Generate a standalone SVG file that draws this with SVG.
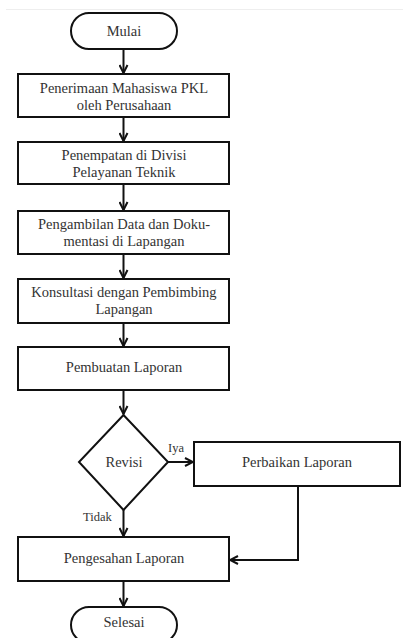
<svg xmlns="http://www.w3.org/2000/svg" width="403" height="638" viewBox="0 0 403 638">
<defs>
<marker id="ah" viewBox="0 0 10 10" refX="9" refY="5" markerWidth="10" markerHeight="10" markerUnits="userSpaceOnUse" orient="auto">
<path d="M1,1 L9,5 L1,9" fill="none" stroke="#111" stroke-width="2"/>
</marker>
<style>
.s{fill:#fff;stroke:#111;stroke-width:2}
text{font-family:"Times New Roman","Liberation Serif",Tinos,"Noto Serif","DejaVu Serif",serif}
.t{font-size:14.5px;fill:#333;text-anchor:middle}
.l{font-size:12.5px;fill:#333}
.c{fill:none;stroke:#111;stroke-width:2;marker-end:url(#ah)}
</style>
</defs>
<rect width="403" height="638" fill="#fff"/>
<line x1="6" y1="9.5" x2="403" y2="9.5" stroke="#eee" stroke-width="1"/>
<g id="connectors">
<line class="c" x1="123.5" y1="49" x2="123.5" y2="73"/>
<line class="c" x1="123.5" y1="117" x2="123.5" y2="141"/>
<line class="c" x1="123.5" y1="184" x2="123.5" y2="210"/>
<line class="c" x1="123.5" y1="254" x2="123.5" y2="278"/>
<line class="c" x1="123.5" y1="323" x2="123.5" y2="346"/>
<line class="c" x1="123.5" y1="390" x2="123.5" y2="414"/>
<line class="c" x1="168" y1="462" x2="193" y2="462"/>
<line class="c" x1="123.5" y1="510" x2="123.5" y2="536"/>
<polyline class="c" points="298,486 298,560 230,560"/>
<line class="c" x1="123.5" y1="581" x2="123.5" y2="606"/>
<text class="l" x="168" y="452" font-family="Liberation Serif">Iya</text>
<text class="l" x="83" y="521" font-family="Liberation Serif">Tidak</text>
</g>
<g id="mulai">
<rect class="s" x="71" y="13" width="106" height="36" rx="18"/>
<text class="t" x="124" y="36">Mulai</text>
</g>
<g id="penerimaan">
<rect class="s" x="18" y="74" width="211" height="43"/>
<text class="t" x="124" y="93">Penerimaan Mahasiswa PKL</text>
<text class="t" x="124" y="110">oleh Perusahaan</text>
</g>
<g id="penempatan">
<rect class="s" x="18" y="142" width="211" height="42"/>
<text class="t" x="124" y="160">Penempatan di Divisi</text>
<text class="t" x="124" y="177">Pelayanan Teknik</text>
</g>
<g id="pengambilan">
<rect class="s" x="18" y="211" width="211" height="43"/>
<text class="t" x="124" y="229">Pengambilan Data dan Doku-</text>
<text class="t" x="124" y="246">mentasi di Lapangan</text>
</g>
<g id="konsultasi">
<rect class="s" x="18" y="279" width="211" height="44"/>
<text class="t" x="124" y="297">Konsultasi dengan Pembimbing</text>
<text class="t" x="124" y="314">Lapangan</text>
</g>
<g id="pembuatan">
<rect class="s" x="18" y="347" width="211" height="43"/>
<text class="t" x="124" y="372">Pembuatan Laporan</text>
</g>
<g id="revisi">
<polygon class="s" points="123.5,415 168,462 123.5,510 79,462"/>
<text class="t" x="124" y="467">Revisi</text>
</g>
<g id="perbaikan">
<rect class="s" x="194" y="442" width="206" height="44"/>
<text class="t" x="297" y="467">Perbaikan Laporan</text>
</g>
<g id="pengesahan">
<rect class="s" x="18" y="537" width="211" height="44"/>
<text class="t" x="124" y="563">Pengesahan Laporan</text>
</g>
<g id="selesai">
<rect class="s" x="71" y="607" width="106" height="36" rx="18"/>
<text class="t" x="124" y="627">Selesai</text>
</g>
</svg>
